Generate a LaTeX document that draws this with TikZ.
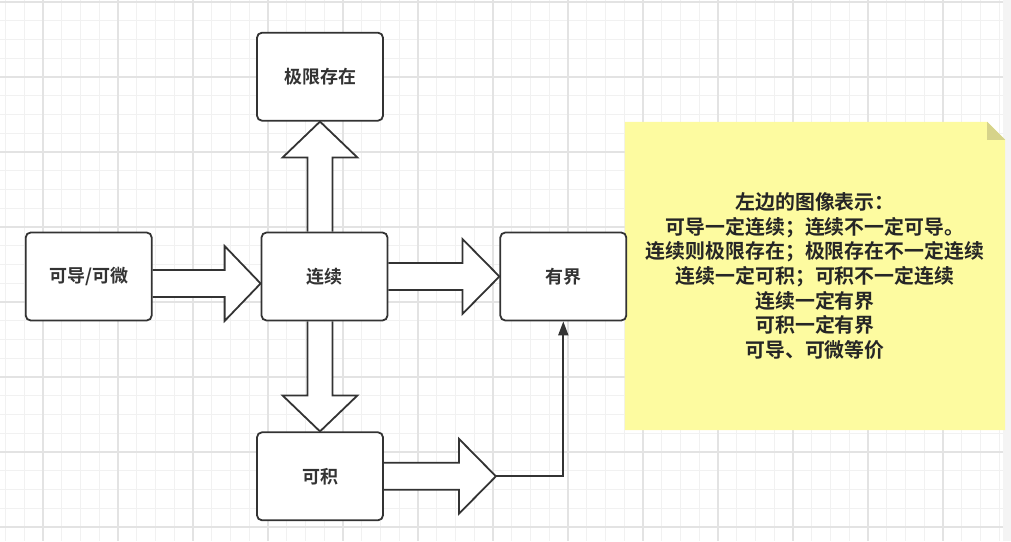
\documentclass[tikz,border=0pt]{standalone}
\usepackage{fontspec}
\setmainfont{Noto Sans CJK SC}[BoldFont={Noto Sans CJK SC Bold}]
\usepackage{tikz}
\usetikzlibrary{arrows.meta,positioning,calc,backgrounds}
\definecolor{gridminor}{HTML}{F1F1F1}
\definecolor{gridmajor}{HTML}{E3E3E3}
\definecolor{inkgray}{HTML}{333333}
\definecolor{notefill}{HTML}{FDFBA0}
\definecolor{notefold}{HTML}{D6D38A}

\begin{document}
\begin{tikzpicture}[
    x=1pt, y=1pt,
    font=\bfseries\fontsize{18}{22}\selectfont,
    conceptbox/.style={draw=inkgray, rounded corners=5pt, minimum width=126pt, minimum height=88pt, align=center, line width=1.8pt, fill=white, text=inkgray, inner sep=0pt},
    notebox/.style={minimum width=380pt, minimum height=308pt, align=center, text=black!85, font=\bfseries\fontsize{19.9}{24.7}\selectfont},
    fatarrow/.style={draw=inkgray, line width=1.8pt, fill=white, line join=miter},
    arrow/.style={-{Triangle[length=14pt, width=10pt]}, draw=inkgray, line width=1.8pt}
]
\useasboundingbox (0,0) rectangle (1011,541);

% concept boxes
\node[conceptbox] (cont) at (324.5,264.5) {连续};
\node[conceptbox, left=108pt of cont] (deriv) {可导/可微};
\node[conceptbox, right=111pt of cont] (bound) {有界};
\node[conceptbox, above=110pt of cont, xshift=-4.5pt] (lim) {极限存在};
\node[conceptbox, below=110pt of cont, xshift=-4.5pt] (integ) {可积};

% note on the right
\node[notebox] (note) at (815,265) {左边的图像表示：\\可导一定连续；连续不一定可导。\\连续则极限存在；极限存在不一定连续\\连续一定可积；可积不一定连续\\连续一定有界\\可积一定有界\\可导、可微等价};

\coordinate (jtip) at ($(integ.east)+(112,0)$);
\draw[arrow] (jtip) -| (bound.south);

\begin{scope}[on background layer]
% grid
\foreach \i in {-2,...,51}
  \draw[gridminor, line width=0.9pt] ({43+18.75*\i},0) -- ++(0,541);
\foreach \j in {0,...,28}
  \draw[gridminor, line width=0.9pt] (0,{14+18.75*\j}) -- ++(1011,0);
\foreach \i in {0,...,12}
  \draw[gridmajor, line width=1.2pt] ({43+75*\i},0) -- ++(0,541);
\foreach \j in {0,...,7}
  \draw[gridmajor, line width=1.2pt] (0,{14+75*\j}) -- ++(1011,0);
\fill[gray!9] (1003,0) rectangle (1011,541);

% note paper with folded corner
\fill[notefill] (note.south west) -- (note.south east) -- ($(note.north east)+(0,-18)$) -- ($(note.north east)+(-18,0)$) -- (note.north west) -- cycle;
\fill[notefold] ($(note.north east)+(-18,0)$) -- ($(note.north east)+(-18,-18)$) -- ($(note.north east)+(0,-18)$) -- cycle;

% block arrows
\draw[fatarrow] ($(deriv.east)+(0,6.5)$) -- ($(cont.west)+(-36,6.5)$) -- ($(cont.west)+(-36,30.5)$) -- ($(cont.west)+(0,-7)$) -- ($(cont.west)+(-36,-44.5)$) -- ($(cont.west)+(-36,-20.5)$) -- ($(deriv.east)+(0,-20.5)$);
\draw[fatarrow] ($(cont.east)+(0,13.5)$) -- ($(bound.west)+(-37,13.5)$) -- ($(bound.west)+(-37,37.5)$) -- (bound.west) -- ($(bound.west)+(-37,-37.5)$) -- ($(bound.west)+(-37,-13.5)$) -- ($(cont.east)+(0,-13.5)$);
\draw[fatarrow] ($(lim.south |- cont.north)+(-12.5,0)$) -- ($(lim.south)+(-12.5,-36)$) -- ($(lim.south)+(-37.5,-36)$) -- (lim.south) -- ($(lim.south)+(37.5,-36)$) -- ($(lim.south)+(12.5,-36)$) -- ($(lim.south |- cont.north)+(12.5,0)$);
\draw[fatarrow] ($(integ.north |- cont.south)+(-12.5,0)$) -- ($(integ.north)+(-12.5,36)$) -- ($(integ.north)+(-37.5,36)$) -- (integ.north) -- ($(integ.north)+(37.5,36)$) -- ($(integ.north)+(12.5,36)$) -- ($(integ.north |- cont.south)+(12.5,0)$);
\draw[fatarrow] ($(integ.east)+(0,13.5)$) -- ($(jtip)+(-37,13.5)$) -- ($(jtip)+(-37,37.5)$) -- (jtip) -- ($(jtip)+(-37,-37.5)$) -- ($(jtip)+(-37,-13.5)$) -- ($(integ.east)+(0,-13.5)$);
\end{scope}

\end{tikzpicture}
\end{document}
